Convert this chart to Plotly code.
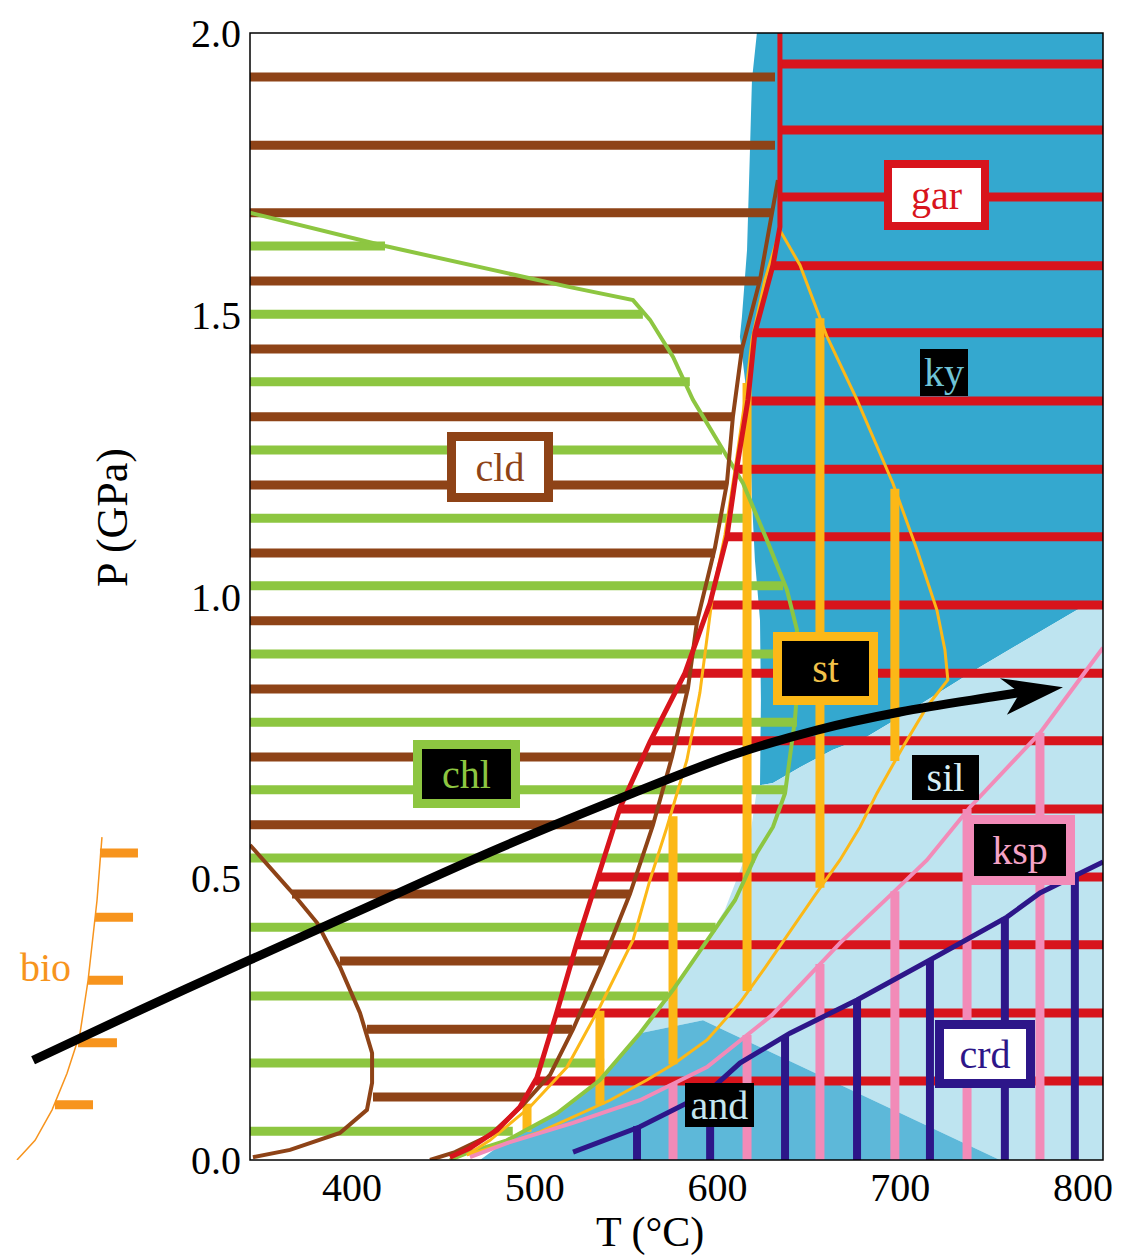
import plotly.graph_objects as go

# ---------------- data (T in deg C, P in GPa) ----------------
# horizontal hatch stripes
brown_stripe_P = [1.922, 1.801, 1.681, 1.560, 1.439, 1.319, 1.198, 1.077, 0.957, 0.836, 0.715, 0.595, 0.472, 0.353, 0.232, 0.112]
brown_stripe_T0 = [344, 344, 344, 344, 344, 344, 344, 344, 344, 344, 344, 344, 367.2, 393.4, 408.2, 411.5]
brown_stripe_T1 = [631.5, 631.5, 629.8, 623.3, 613.4, 608.5, 605.2, 598.6, 588.8, 583.9, 575.1, 564.7, 552.1, 537.4, 520.4, 495.0]

green_stripe_P = [1.622, 1.501, 1.381, 1.260, 1.139, 1.019, 0.898, 0.777, 0.657, 0.536, 0.413, 0.291, 0.172, 0.051]
green_stripe_T0 = [344] * 14
green_stripe_T1 = [418.1, 559.2, 584.9, 602.5, 617.8, 635.9, 643.5, 643.5, 637.0, 620.5, 599.0, 573.0, 538.0, 488.0]

red_stripe_P = [1.945, 1.828, 1.709, 1.587, 1.468, 1.347, 1.226, 1.106, 0.985, 0.864, 0.744, 0.623, 0.502, 0.382, 0.261, 0.140]
red_stripe_T0 = [634.2, 634.2, 634.2, 630.4, 620.5, 616.6, 610.5, 605.2, 595.6, 582.2, 563.4, 546.5, 534.6, 522.9, 512.0, 500.5]
red_stripe_T1 = [812] * 16

# vertical hatch stripes
yel_vert_T = [495.8, 535.7, 575.7, 616.2, 656.1, 697.1]
yel_vert_Ptop = [0.100, 0.265, 0.610, 1.379, 1.494, 1.191]
yel_vert_Pbot = [0.050, 0.098, 0.170, 0.300, 0.483, 0.708]

pink_vert_T = [575.7, 616.2, 656.1, 697.1, 736.6, 776.5]
pink_vert_Ptop = [0.135, 0.222, 0.348, 0.477, 0.623, 0.758]
pink_vert_Pbot = [0, 0, 0, 0, 0, 0]

navy_vert_T = [556.0, 596.0, 637.0, 676.4, 716.3, 757.3, 795.6]
navy_vert_Ptop = [0.060, 0.124, 0.220, 0.284, 0.355, 0.430, 0.504]
navy_vert_Pbot = [0, 0, 0, 0, 0, 0, 0]

# coloured fields
ky_T = [621.6, 811.0, 811.0, 796.7, 743.7, 714.6, 699.9, 681.8, 663.2, 645.2, 630.4, 623.3, 623.8, 623.3, 620.5, 618.9, 617.8, 615.1, 612.3, 613.4, 616.2, 617.8, 618.9]
ky_P = [2.0, 2.0, 0.994, 0.976, 0.875, 0.816, 0.786, 0.751, 0.728, 0.697, 0.669, 0.665, 0.816, 0.958, 1.065, 1.171, 1.295, 1.384, 1.461, 1.496, 1.615, 1.792, 1.917]

sil_T = [623.3, 630.4, 645.2, 663.2, 681.8, 699.9, 714.6, 743.7, 796.7, 811.0, 811.0, 754.6, 592.1, 557.6, 575.7, 590.4, 604.1, 616.7, 621.6]
sil_P = [0.665, 0.669, 0.697, 0.728, 0.751, 0.786, 0.816, 0.875, 0.976, 0.994, 0.0, 0.0, 0.248, 0.225, 0.302, 0.373, 0.444, 0.550, 0.657]

and_T = [557.6, 592.1, 754.6, 470.1, 484.8, 512.2, 535.7]
and_P = [0.225, 0.248, 0.0, 0.0, 0.035, 0.083, 0.142]

# reaction curves
gar_T = [634.2, 634.2, 630.4, 620.5, 616.7, 610.7, 605.2, 595.9, 582.2, 563.1, 546.7, 534.6, 523.1, 512.2, 501.2, 491.9, 479.4, 464.6, 453.6]
gar_P = [2.0, 1.656, 1.588, 1.468, 1.349, 1.230, 1.106, 0.988, 0.864, 0.742, 0.625, 0.502, 0.385, 0.263, 0.146, 0.094, 0.053, 0.021, 0.005]

cld_hi_T = [633.1, 629.8, 623.3, 613.4, 608.5, 605.2, 598.6, 588.8, 583.9, 575.1, 564.7, 552.1, 537.4, 521.0, 508.4, 493.6, 475.5, 456.4, 442.7]
cld_hi_P = [1.739, 1.682, 1.562, 1.439, 1.320, 1.201, 1.086, 0.955, 0.838, 0.715, 0.594, 0.472, 0.353, 0.232, 0.151, 0.098, 0.044, 0.014, 0.0]

cld_lo_T = [344.2, 366.1, 380.9, 393.4, 404.4, 411.0, 411.0, 408.2, 393.4, 366.1, 345.8]
cld_lo_P = [0.559, 0.479, 0.421, 0.343, 0.261, 0.190, 0.137, 0.089, 0.048, 0.018, 0.005]

chl_T = [344.2, 418.1, 519.3, 553.8, 563.1, 575.7, 586.6, 594.3, 601.4, 614.0, 627.1, 638.0, 643.5, 644.1, 642.4, 637.0, 630.4, 621.6, 609.6, 594.3, 575.7, 557.6, 535.7, 512.2, 484.8, 462.9, 453.6]
chl_P = [1.681, 1.622, 1.549, 1.526, 1.491, 1.425, 1.349, 1.308, 1.269, 1.201, 1.100, 1.012, 0.941, 0.852, 0.781, 0.651, 0.591, 0.545, 0.461, 0.390, 0.302, 0.225, 0.142, 0.083, 0.035, 0.012, 0.0]

st_out_T = [634.2, 645.2, 660.0, 676.4, 696.0, 709.2, 720.1, 724.5, 726.1, 714.6, 701.5, 687.3, 678.0, 667.0, 653.4, 639.7, 626.0, 612.3, 594.3, 576.8, 561.4, 541.2, 521.0, 502.9, 484.8, 462.9]
st_out_P = [1.650, 1.588, 1.461, 1.349, 1.201, 1.083, 0.976, 0.905, 0.852, 0.804, 0.733, 0.651, 0.591, 0.532, 0.470, 0.405, 0.341, 0.279, 0.213, 0.172, 0.142, 0.106, 0.076, 0.050, 0.030, 0.009]

st_in_T = [634.2, 626.0, 618.9, 615.1, 609.6, 604.1, 597.5, 590.4, 583.3, 572.4, 563.1, 553.8, 535.7, 517.7, 497.4, 475.5, 462.9]
st_in_P = [1.650, 1.562, 1.455, 1.349, 1.224, 1.109, 1.006, 0.829, 0.710, 0.591, 0.497, 0.390, 0.272, 0.165, 0.094, 0.035, 0.009]

ksp_T = [811.0, 776.5, 738.2, 714.6, 696.0, 667.0, 629.8, 594.3, 557.6, 521.0, 484.8, 464.6]
ksp_P = [0.909, 0.758, 0.626, 0.532, 0.474, 0.385, 0.257, 0.165, 0.106, 0.066, 0.030, 0.005]

crd_T = [521.0, 557.6, 594.3, 612.3, 639.7, 676.4, 716.3, 758.4, 776.5, 811.0]
crd_P = [0.014, 0.059, 0.119, 0.172, 0.225, 0.284, 0.355, 0.431, 0.474, 0.529]

# biotite isograd (left of the frame)
bio_T = [263.2, 260.5, 255.6, 251.2, 244.1, 235.9, 226.6, 216.7]
bio_P = [0.573, 0.461, 0.319, 0.225, 0.154, 0.089, 0.035, 0.0]
bio_tick_P = [0.545, 0.431, 0.319, 0.208, 0.098]
bio_tick_T0 = [262.1, 259.4, 255.6, 250.1, 237.5]
bio_tick_T1 = [282.9, 280.2, 274.7, 271.4, 258.3]

# P-T path arrow
path_T = [225.5, 284.0, 344.2, 398.9, 481.0, 553.8, 608.5, 654.5, 699.9, 750.8, 768.3]
path_P = [0.177, 0.266, 0.355, 0.435, 0.554, 0.651, 0.719, 0.763, 0.795, 0.822, 0.831]
head_T = [789.1, 754.6, 765.5, 758.4]
head_P = [0.839, 0.855, 0.829, 0.790]

# field labels
labels = ["gar", "ky", "cld", "st", "chl", "sil", "ksp", "crd", "and"]
label_T = [720.1, 724.0, 481.0, 659.4, 462.9, 725.0, 765.5, 746.4, 601.4]
label_P = [1.712, 1.398, 1.230, 0.873, 0.685, 0.678, 0.550, 0.188, 0.098]

x_ticks = [400, 500, 600, 700, 800]
y_ticks = [0.0, 0.5, 1.0, 1.5, 2.0]
y_ticktext = ["0.0", "0.5", "1.0", "1.5", "2.0"]

# ---------------- styles ----------------
C_BROWN = "#8E4317"
C_GREEN = "#8DC641"
C_RED = "#D8141C"
C_YEL = "#FCB817"
C_PINK = "#F28BB8"
C_NAVY = "#2D1689"
C_ORANGE = "#F7941D"
C_KY = "#34A8CF"
C_SIL = "#BEE4F0"
C_AND = "#5DB8D9"
SERIF = "Liberation Serif"

fig = go.Figure()


def poly(T, P, color, xa="x"):
    fig.add_trace(go.Scatter(x=T + [T[0]], y=P + [P[0]], mode="lines", fill="toself",
                             fillcolor=color, line=dict(width=0), hoverinfo="skip", xaxis=xa))


def hstripes(P, T0, T1, color, w, xa="x"):
    xs, ys = [], []
    for p, a, b in zip(P, T0, T1):
        xs += [a, b, None]
        ys += [p, p, None]
    fig.add_trace(go.Scatter(x=xs, y=ys, mode="lines", line=dict(color=color, width=w),
                             hoverinfo="skip", xaxis=xa))


def vstripes(T, P0, P1, color, w):
    xs, ys = [], []
    for t, a, b in zip(T, P0, P1):
        xs += [t, t, None]
        ys += [a, b, None]
    fig.add_trace(go.Scatter(x=xs, y=ys, mode="lines", line=dict(color=color, width=w),
                             hoverinfo="skip"))


def curve(T, P, color, w, xa="x", shape="linear"):
    fig.add_trace(go.Scatter(x=T, y=P, mode="lines", line=dict(color=color, width=w, shape=shape),
                             hoverinfo="skip", xaxis=xa))


# fields
poly(ky_T, ky_P, C_KY)
poly(sil_T, sil_P, C_SIL)
poly(and_T, and_P, C_AND)

# hatching
hstripes(brown_stripe_P, brown_stripe_T0, brown_stripe_T1, C_BROWN, 9)
hstripes(green_stripe_P, green_stripe_T0, green_stripe_T1, C_GREEN, 9)
hstripes(red_stripe_P, red_stripe_T0, red_stripe_T1, C_RED, 9)
vstripes(pink_vert_T, pink_vert_Ptop, pink_vert_Pbot, C_PINK, 9)
vstripes(navy_vert_T, navy_vert_Ptop, navy_vert_Pbot, C_NAVY, 8)
vstripes(yel_vert_T, yel_vert_Ptop, yel_vert_Pbot, C_YEL, 9)

# reaction curves
curve(cld_lo_T, cld_lo_P, C_BROWN, 4)
curve(chl_T, chl_P, C_GREEN, 4)
curve(cld_hi_T, cld_hi_P, C_BROWN, 4)
curve(st_in_T, st_in_P, C_YEL, 3)
curve(st_out_T, st_out_P, C_YEL, 3)
curve(ksp_T, ksp_P, C_PINK, 4)
curve(crd_T, crd_P, C_NAVY, 5)
curve(gar_T, gar_P, C_RED, 5)

# outside-frame elements + arrow on the wide overlay axis
curve(bio_T, bio_P, C_ORANGE, 1.5, xa="x2")
hstripes(bio_tick_P, bio_tick_T0, bio_tick_T1, C_ORANGE, 9, xa="x2")
curve(path_T, path_P, "black", 9, xa="x2", shape="spline")
poly(head_T, head_P, "black", xa="x2")

# labels
label_style = {
    "gar": dict(fg=C_RED, bg="white", bc=C_RED, bw=8, w=89, h=54),
    "ky": dict(fg="#6FC3D6", bg="black", bc="black", bw=0, w=48, h=47),
    "cld": dict(fg=C_BROWN, bg="white", bc=C_BROWN, bw=9, w=88, h=52),
    "st": dict(fg="#F2C24A", bg="black", bc=C_YEL, bw=9, w=87, h=55),
    "chl": dict(fg=C_GREEN, bg="black", bc=C_GREEN, bw=9, w=89, h=50),
    "sil": dict(fg="#D8EEF4", bg="black", bc="black", bw=0, w=67, h=45),
    "ksp": dict(fg="#F4A3C6", bg="black", bc=C_PINK, bw=9, w=92, h=52),
    "crd": dict(fg=C_NAVY, bg="white", bc=C_NAVY, bw=9, w=82, h=50),
    "and": dict(fg="#C4E6F0", bg="black", bc="black", bw=0, w=69, h=44),
}
for name, t, p in zip(labels, label_T, label_P):
    s = label_style[name]
    fig.add_annotation(x=t, y=p, xref="x", yref="y", text=name, showarrow=False,
                       font=dict(family=SERIF, size=40, color=s["fg"]),
                       bgcolor=s["bg"], bordercolor=s["bc"], borderwidth=s["bw"], borderpad=0,
                       width=s["w"], height=s["h"], align="center", valign="middle")

X0 = 250 / 1103
fig.add_annotation(x=45 / 1103, y=0.1704, xref="paper", yref="paper", text="bio", showarrow=False,
                   xanchor="center", yanchor="middle",
                   font=dict(family=SERIF, size=40, color=C_ORANGE))
fig.add_annotation(x=650 / 1103, y=-0.064, xref="paper", yref="paper", text="T (°C)", showarrow=False,
                   xanchor="center", yanchor="middle",
                   font=dict(family=SERIF, size=42, color="black"))
fig.add_annotation(x=113 / 1103, y=0.5697, xref="paper", yref="paper", text="P (GPa)", showarrow=False,
                   xanchor="center", yanchor="middle",
                   textangle=-90, font=dict(family=SERIF, size=44, color="black"))

fig.add_shape(type="rect", xref="paper", yref="paper", x0=X0, x1=1, y0=0, y1=1,
              line=dict(color="black", width=1.5), layer="above")

fig.update_layout(
    width=1144, height=1255,
    margin=dict(l=0, r=41, t=33, b=95),
    paper_bgcolor="white", plot_bgcolor="rgba(0,0,0,0)",
    showlegend=False,
    xaxis=dict(domain=[X0, 1], range=[344.2, 811.0], tickvals=x_ticks, showgrid=False, zeroline=False,
               showline=False, ticks="", anchor="y", ticklabelstandoff=0,
               tickfont=dict(family=SERIF, size=40, color="black")),
    xaxis2=dict(domain=[0, 1], range=[207.4, 811.0], visible=False, anchor="y", showgrid=False),
    yaxis=dict(domain=[0, 1], range=[0, 2.0], tickvals=y_ticks, ticktext=y_ticktext, showgrid=False,
               zeroline=False, showline=False, ticks="", anchor="x", ticklabelstandoff=8,
               tickfont=dict(family=SERIF, size=40, color="black")),
)

fig.write_html("out.html")
